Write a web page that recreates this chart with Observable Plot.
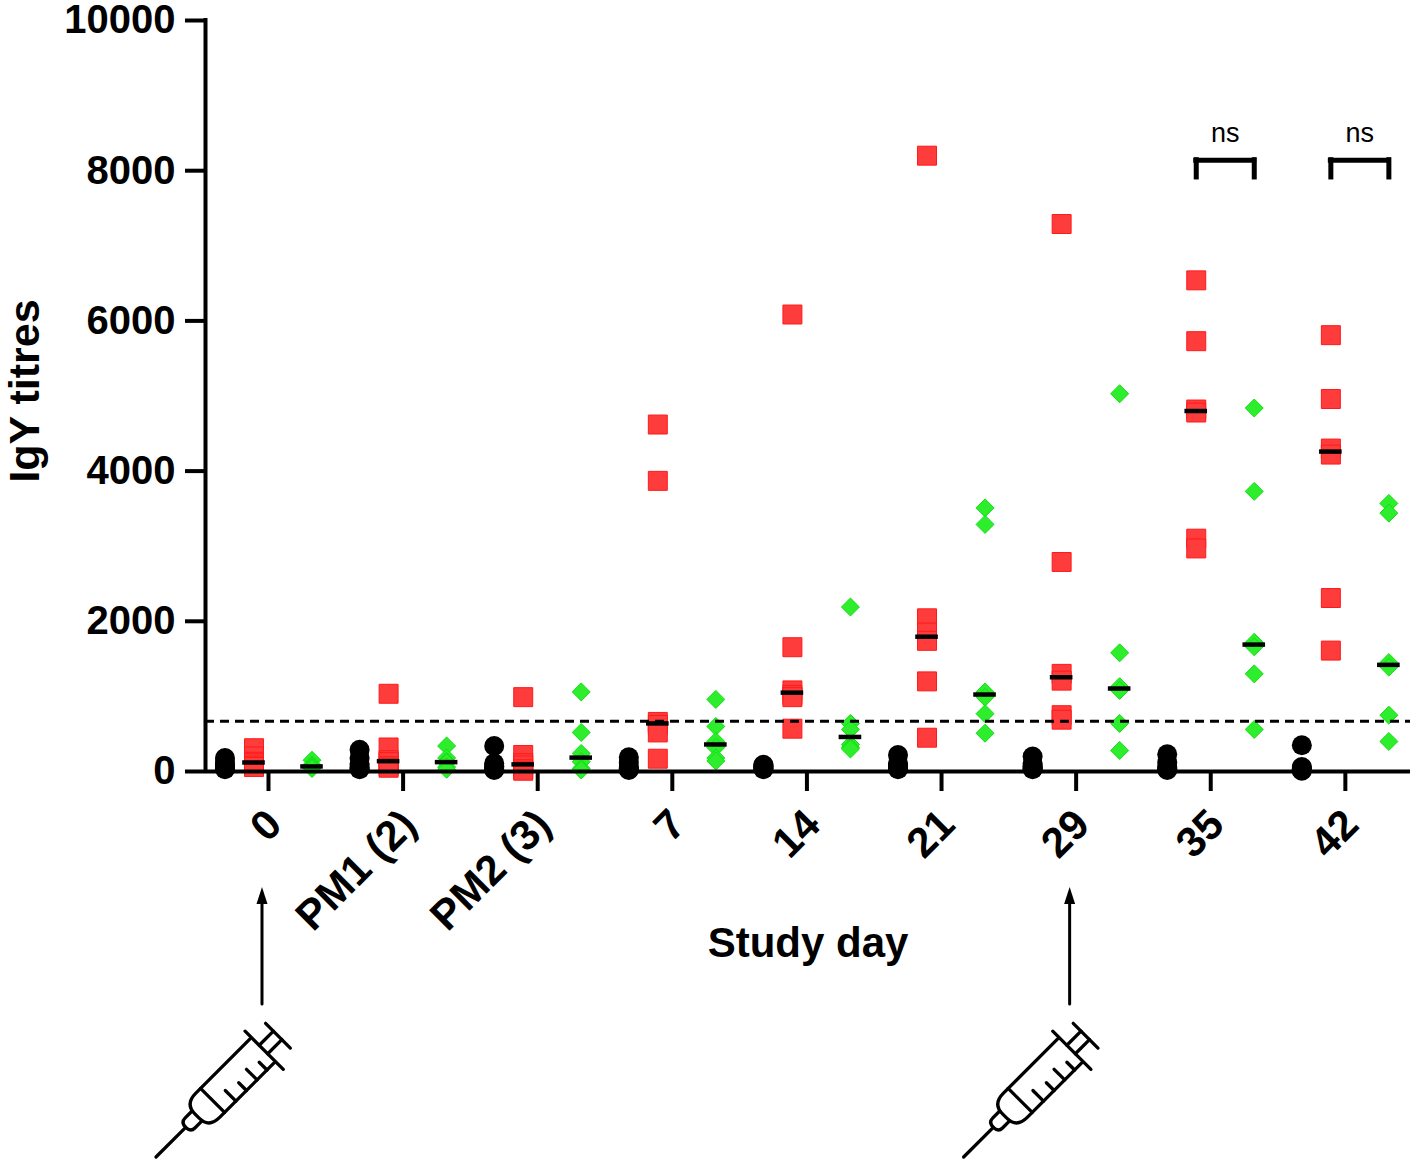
<!DOCTYPE html>
<html>
<head>
<meta charset="utf-8">
<script src="https://cdn.jsdelivr.net/npm/d3@7"></script>
<script src="https://cdn.jsdelivr.net/npm/@observablehq/plot@0.6"></script>
<style>
  body { margin: 0; background: #fff; }
  #chart { width: 1417px; height: 1164px; }
</style>
</head>
<body>
<div id="chart"></div>
<script>
// ---------- data ----------
const dayLabels = ["0", "PM1 (2)", "PM2 (3)", "7", "14", "21", "29", "35", "42"];
const groupNames = ["Control", "Group A", "Group B"];
const yTicks = [0, 2000, 4000, 6000, 8000, 10000];

// IgY titres per study day (one array of birds per day)
const controlTitres = [
  [180, 120, 80, 50, 40, 30],
  [290, 180, 100, 60, 40, 30],
  [340, 110, 70, 50, 30, 20],
  [190, 120, 60, 40, 30, 20],
  [90, 70, 60, 50, 40, 30],
  [220, 110, 80, 60, 40, 30],
  [200, 110, 70, 50, 40, 30],
  [230, 120, 60, 40, 30, 20],
  [350, 60, 40, 30, 20, 10]
];
const groupATitres = [
  [310, 200, 130, 110, 80, 60],
  [1035, 320, 150, 125, 70, 50],
  [990, 220, 110, 80, 30, 10],
  [4620, 3870, 660, 620, 520, 170],
  [6085, 1655, 1080, 1020, 990, 570],
  [8200, 2040, 1850, 1740, 1200, 450],
  [7290, 2790, 1300, 1210, 750, 690],
  [6540, 5730, 4820, 4780, 3100, 2970],
  [5810, 4960, 4300, 4220, 2310, 1610]
];
const groupBTitres = [
  [150, 90, 70, 65, 50, 40],
  [340, 180, 130, 120, 60, 30],
  [1060, 520, 240, 130, 40, 20],
  [960, 600, 400, 320, 180, 140],
  [2190, 640, 560, 360, 320, 300],
  [3510, 3290, 1060, 990, 770, 510],
  [5030, 1580, 1130, 1080, 640, 280],
  [4840, 3730, 1720, 1660, 1300, 560],
  [3570, 3440, 1450, 1390, 750, 400]
];
const cutoffTitre = 670;
const comparisons = [
  {day: "35", label: "ns", y: 8140},
  {day: "42", label: "ns", y: 8140}
];
const injectionDays = ["0", "29"];

// ---------- layout / styling ----------
const FONT = "'Liberation Sans', Arial, Helvetica, sans-serif";
const slot = 0.2155;                // spacing of groups within a day
const groupOffset = {"Control": -1.5 * slot, "Group A": -0.5 * slot, "Group B": 1.5 * slot};
const xDomain = [-0.468, 8.484];
const medianHalf = 0.084;
const bracketDrop = 230;

const rows = [];
[controlTitres, groupATitres, groupBTitres].forEach((series, g) =>
  series.forEach((vals, i) =>
    vals.forEach(v => rows.push({idx: i, day: dayLabels[i], group: groupNames[g], titre: v}))));
const pos = d => d.idx + groupOffset[d.group];

const medians = d3.flatRollup(
  rows.filter(d => d.group !== "Control"),
  v => d3.median(v, d => d.titre),
  d => d.idx, d => d.group
).map(([idx, group, m]) => ({idx, group, titre: m}));

const dayIdx = d => dayLabels.indexOf(d);

const plot = Plot.plot({
  width: 1417,
  height: 1164,
  marginLeft: 205,
  marginRight: 7,
  marginTop: 20,
  marginBottom: 393,
  style: `font-family: ${FONT}; font-size: 40px; font-weight: bold; color: #000; background: #fff; overflow: visible;`,
  x: {domain: xDomain},
  y: {domain: [0, 10000]},
  marks: [
    Plot.axisY({ticks: yTicks, tickFormat: d => String(d), tickSize: 20, tickPadding: 10,
      strokeWidth: 4, label: null, fontSize: 40, fontWeight: "bold"}),
    // tick marks
    Plot.axisX({ticks: d3.range(dayLabels.length), tickFormat: () => "", tickSize: 20,
      strokeWidth: 4, label: null}),
    // tick labels
    Plot.axisX({ticks: d3.range(dayLabels.length), tickFormat: i => dayLabels[i], tickSize: 0,
      tickPadding: 46, tickRotate: -45, dx: 6, label: null, fontSize: 42, fontWeight: "bold"}),

    Plot.dot(rows.filter(d => d.group === "Control"),
      {x: pos, y: "titre", r: 10, fill: "#000", symbol: "circle"}),
    Plot.dot(rows.filter(d => d.group === "Group A"),
      {x: pos, y: "titre", r: 10.7, fill: "#ff3c3c", stroke: "#ff1a1a", strokeWidth: 1, symbol: "square"}),
    Plot.dot(rows.filter(d => d.group === "Group B"),
      {x: pos, y: "titre", r: 8.1, fill: "#2ded2d", stroke: "#12e012", strokeWidth: 1, symbol: "diamond2"}),

    Plot.ruleY(medians, {y: "titre", x1: d => pos(d) - medianHalf, x2: d => pos(d) + medianHalf,
      stroke: "#000", strokeWidth: 4.5}),

    Plot.ruleY([cutoffTitre], {stroke: "#000", strokeWidth: 3, strokeDasharray: "9,6"}),

    // significance brackets
    Plot.ruleY(comparisons, {y: "y",
      x1: d => dayIdx(d.day) + groupOffset["Group A"], x2: d => dayIdx(d.day) + groupOffset["Group B"],
      stroke: "#000", strokeWidth: 5, strokeLinecap: "square"}),
    Plot.ruleX(comparisons.flatMap(d => [
        {x: dayIdx(d.day) + groupOffset["Group A"], y: d.y},
        {x: dayIdx(d.day) + groupOffset["Group B"], y: d.y}]),
      {x: "x", y1: "y", y2: d => d.y - bracketDrop, stroke: "#000", strokeWidth: 5, strokeLinecap: "square"}),
    Plot.text(comparisons, {x: d => dayIdx(d.day) + (groupOffset["Group A"] + groupOffset["Group B"]) / 2,
      y: "y", dy: -27, text: "label", fontSize: 27, fontWeight: "normal"}),

    // axis lines
    Plot.ruleY([0], {stroke: "#000", strokeWidth: 4}),
    Plot.ruleX([xDomain[0]], {stroke: "#000", strokeWidth: 4, strokeLinecap: "square"}),

    // axis titles
    Plot.text(["Study day"], {frameAnchor: "bottom", lineAnchor: "middle", dy: 172,
      fontSize: 42, fontWeight: "bold"}),
    Plot.text(["IgY titres"], {frameAnchor: "left", textAnchor: "middle", lineAnchor: "middle",
      dx: -180, dy: -5, rotate: -90, fontSize: 43, fontWeight: "bold"})
  ]
});

document.getElementById("chart").append(plot);

// ---------- injection arrows and syringes ----------
const xs = plot.scale("x"), ys = plot.scale("y");
const svg = d3.select(plot.tagName.toLowerCase() === "svg" ? plot : plot.querySelector("svg"));
const yBase = ys.apply(0);
const g = svg.append("g").attr("stroke", "#000").attr("fill", "none")
  .attr("stroke-linecap", "round").attr("stroke-linejoin", "round");

injectionDays.forEach(day => {
  const ax = xs.apply(dayIdx(day)) - 6;
  // arrow
  g.append("line").attr("x1", ax).attr("x2", ax)
    .attr("y1", yBase + 233).attr("y2", yBase + 128).attr("stroke-width", 3);
  g.append("path").attr("d", `M${ax},${yBase + 116} L${ax - 5.5},${yBase + 133} L${ax + 5.5},${yBase + 133} Z`)
    .attr("fill", "#000").attr("stroke", "none");
  // syringe (drawn along +u, rotated to point up-right)
  const s = g.append("g").attr("transform", `translate(${ax - 106},${yBase + 386}) rotate(-45)`)
    .attr("stroke-width", 3.3);
  s.append("line").attr("x1", 0).attr("y1", 0).attr("x2", 42).attr("y2", 0);
  s.append("path").attr("d", "M58,-7 L48,-7 Q42,-7 42,0 Q42,7 48,7 L58,7");
  s.append("path").attr("d", "M150,-17 L73,-17 Q58,-17 58,-3 L58,3 Q58,17 73,17 L150,17");
  s.append("line").attr("x1", 80).attr("y1", -17).attr("x2", 80).attr("y2", 17);
  [96, 111, 126, 140].forEach((u, k) =>
    s.append("line").attr("x1", u).attr("y1", 17).attr("x2", u).attr("y2", k % 2 ? 6 : 2));
  s.append("line").attr("x1", 152).attr("y1", -26).attr("x2", 152).attr("y2", 28);
  s.append("path").attr("d", "M152,-6 L172,-6 M152,6 L172,6");
  s.append("line").attr("x1", 172).attr("y1", -17).attr("x2", 172).attr("y2", 18);
});
</script>
</body>
</html>
